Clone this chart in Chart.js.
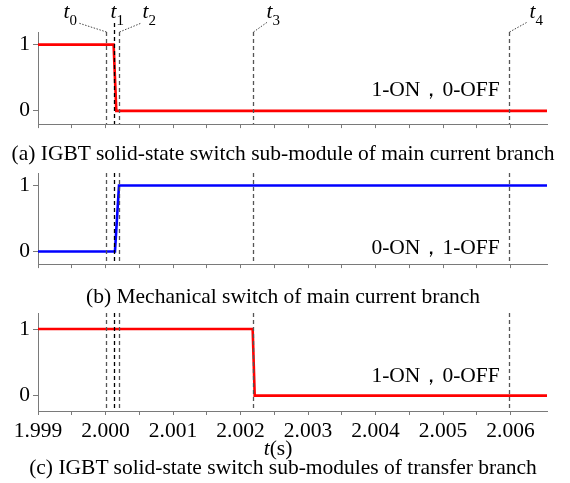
<!DOCTYPE html>
<html>
<head>
<meta charset="utf-8">
<script src="https://cdn.jsdelivr.net/npm/chart.js@4.4.1/dist/chart.umd.min.js"></script>
<style>
  html, body { margin: 0; padding: 0; background: #fff; }
  #wrap { position: relative; width: 570px; height: 483px; overflow: hidden; font-family: 'Liberation Serif', 'Times New Roman', serif; }
  .panel { position: absolute; left: 0; width: 570px; }
  .cap { position: absolute; left: 0; width: 566px; text-align: center; font-size: 21.5px; line-height: 24px; color: #000; white-space: nowrap; }
</style>
</head>
<body>
<div id="wrap">
  <div class="panel" style="top:0;height:140px"><canvas id="cA"></canvas></div>
  <div class="panel" style="top:140px;height:140px"><canvas id="cB"></canvas></div>
  <div class="panel" style="top:280px;height:203px"><canvas id="cC"></canvas></div>
  <div class="cap" style="top:141px">(a) IGBT solid-state switch sub-module of main current branch</div>
  <div class="cap" style="top:284px">(b) Mechanical switch of main current branch</div>
  <div class="cap" style="top:436px;width:556px"><i>t</i>(s)</div>
  <div class="cap" style="top:455px">(c) IGBT solid-state switch sub-modules of transfer branch</div>
</div>
<script>
// Switching states over time (s), 1/0 logic levels
const TIME_A  = [1.999, 2.00012, 2.00016, 2.00654];
const STATE_A = [1, 1, 0, 0];
const TIME_B  = [1.999, 2.00014, 2.00020, 2.00654];
const STATE_B = [0, 0, 1, 1];
const TIME_C  = [1.999, 2.00218, 2.00221, 2.00654];
const STATE_C = [1, 1, 0, 0];

// Event instants t0..t4
const EVENT_NAMES = ['0', '1', '2', '3', '4'];
const EVENT_TIMES = [2.0000, 2.00013, 2.00020, 2.00218, 2.00597];

// Axis ticks
const X_TICKS = [1.999, 1.9995, 2.000, 2.0005, 2.001, 2.0015, 2.002, 2.0025, 2.003, 2.0035, 2.004, 2.0045, 2.005, 2.0055, 2.006];
const Y_TICKS = [0, 1];
const X_MIN = 1.999, X_MAX = 2.00654;

const SERIF = "'Liberation Serif', 'Times New Roman', serif";
const AXIS_GRAY = '#7a7a7a';
const FS = 21.5;

function pts(xs, ys) { return xs.map((x, i) => ({ x: x, y: ys[i] })); }

// Vertical dashed event markers plus state legend text
function markerPlugin(opts) {
  return {
    id: 'markers',
    afterDatasetsDraw(chart) {
      const ctx = chart.ctx, xs = chart.scales.x, ys = chart.scales.y, area = chart.chartArea;
      ctx.save();
      EVENT_TIMES.forEach((t, i) => {
        const px = Math.round(xs.getPixelForValue(t)) + 0.5;
        ctx.beginPath();
        ctx.setLineDash([4, 3]);
        ctx.lineWidth = 1.3;
        ctx.strokeStyle = i === 1 ? '#000' : '#555';
        const top = (opts.labels && i === 1) ? area.top - 9 : area.top;
        ctx.moveTo(px, top);
        ctx.lineTo(px, area.bottom);
        ctx.stroke();
      });
      ctx.setLineDash([]);
      // state legend
      ctx.fillStyle = '#000';
      ctx.font = FS + 'px ' + SERIF;
      ctx.textAlign = 'right';
      ctx.textBaseline = 'alphabetic';
      ctx.fillText(opts.legend, xs.getPixelForValue(2.00584), ys.getPixelForValue(opts.legendY));

      if (opts.labels) {
        // label offsets relative to each marker: text dx, leader end (dx, dy) from the line top
        const L = [
          { tx: -43, lead: [-28, -9] },
          { tx: -4,  lead: null },
          { tx: 23,  lead: [22, -9] },
          { tx: 13,  lead: [14, -10] },
          { tx: 20,  lead: [18, -10] }
        ];
        EVENT_TIMES.forEach((t, i) => {
          const px = Math.round(xs.getPixelForValue(t)) + 0.5;
          const l = L[i];
          if (l.lead) {
            ctx.beginPath();
            ctx.setLineDash([1.5, 1.5]);
            ctx.lineWidth = 1;
            ctx.strokeStyle = '#444';
            ctx.moveTo(px, area.top);
            ctx.lineTo(px + l.lead[0], area.top + l.lead[1]);
            ctx.stroke();
            ctx.setLineDash([]);
          }
          ctx.textAlign = 'left';
          ctx.font = 'italic ' + FS + 'px ' + SERIF;
          ctx.fillStyle = '#000';
          const x0 = px + l.tx;
          ctx.fillText('t', x0, 18);
          const w = ctx.measureText('t').width;
          ctx.font = '15px ' + SERIF;
          ctx.fillText(EVENT_NAMES[i], x0 + w, 25);
        });
      }
      ctx.restore();
    }
  };
}

function makeChart(id, xs, ys, color, o) {
  const canvas = document.getElementById(id);
  return new Chart(canvas, {
    type: 'line',
    data: {
      datasets: [{
        data: pts(xs, ys),
        borderColor: color,
        borderWidth: 2.6,
        pointRadius: 0,
        tension: 0,
        fill: false
      }]
    },
    options: {
      responsive: true,
      maintainAspectRatio: false,
      animation: false,
      events: [],
      layout: { padding: { top: o.top, right: 23, left: 0, bottom: 0 } },
      plugins: { legend: { display: false }, tooltip: { enabled: false } },
      scales: {
        x: {
          type: 'linear',
          min: X_MIN,
          max: X_MAX,
          afterBuildTicks: s => { s.ticks = X_TICKS.map(v => ({ value: v })); },
          afterFit: s => { s.height = o.xh; },
          border: { display: true, color: AXIS_GRAY, width: 1 },
          grid: { drawOnChartArea: false, drawTicks: true, tickLength: 4, color: AXIS_GRAY },
          ticks: {
            display: o.xlabels,
            autoSkip: false,
            maxRotation: 0,
            padding: 3,
            color: '#000',
            font: { family: SERIF, size: FS },
            callback: v => (Math.round(v * 2000) % 2 === 0 ? v.toFixed(3) : '')
          }
        },
        y: {
          min: o.ymin,
          max: o.ymax,
          afterBuildTicks: s => { s.ticks = Y_TICKS.map(v => ({ value: v })); },
          afterFit: s => { s.width = 38; },
          border: { display: true, color: AXIS_GRAY, width: 1 },
          grid: { drawOnChartArea: false, drawTicks: true, tickLength: 5, color: AXIS_GRAY },
          ticks: {
            color: '#000',
            padding: 3,
            font: { family: SERIF, size: FS },
            callback: v => String(v)
          }
        }
      }
    },
    plugins: [markerPlugin(o)]
  });
}

makeChart('cA', TIME_A, STATE_A, '#ff0000',
  { top: 32, xh: 12, ymin: -0.2, ymax: 1.19, xlabels: false, labels: true, legend: '1-ON\uFF0C0-OFF', legendY: 0.23 });
makeChart('cB', TIME_B, STATE_B, '#0000ff',
  { top: 33, xh: 12, ymin: -0.19, ymax: 1.19, xlabels: false, labels: false, legend: '0-ON\uFF0C1-OFF', legendY: -0.03 });
makeChart('cC', TIME_C, STATE_C, '#ff0000',
  { top: 33, xh: 72, ymin: -0.23, ymax: 1.24, xlabels: true, labels: false, legend: '1-ON\uFF0C0-OFF', legendY: 0.2 });
</script>
</body>
</html>
